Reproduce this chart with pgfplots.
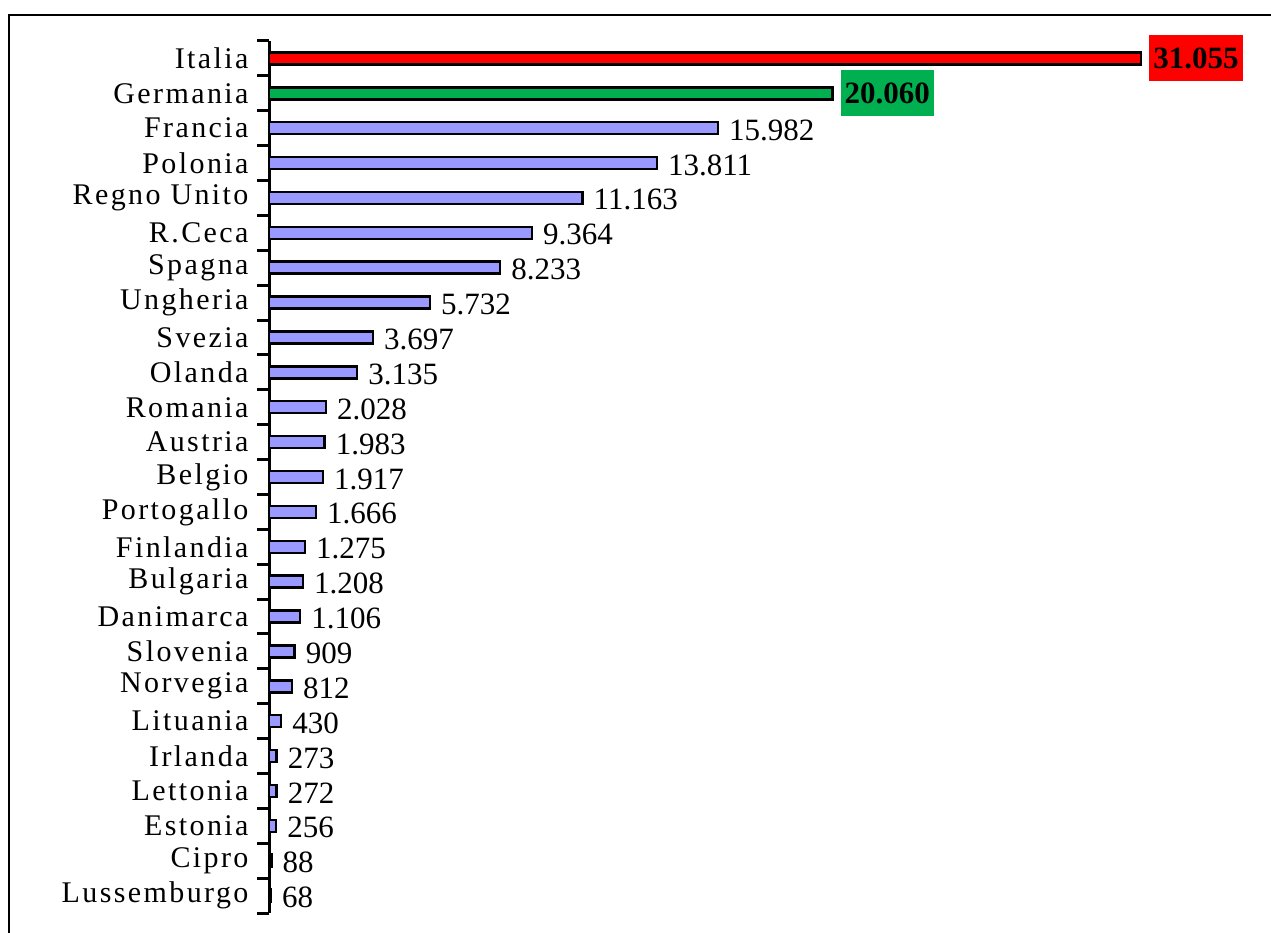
\documentclass[border=0pt]{standalone}
\usepackage{fontspec}
\setmainfont{Liberation Serif}
\newfontfamily\catfont[LetterSpace=8]{Liberation Serif}
\usepackage{pgfplots}
\pgfplotsset{compat=1.18}
\definecolor{barblue}{HTML}{9999FF}
\definecolor{bargreen}{HTML}{00B050}
\begin{document}
\begin{tikzpicture}
\useasboundingbox (0,0) rectangle (1271pt,932pt);
\draw[line width=2pt] (9pt,-5pt) -- (9pt,917.3pt) -- (1280pt,917.3pt);
\begin{axis}[
  at={(269pt,19pt)}, anchor=south west,
  scale only axis, width=872pt, height=872pt,
  xmin=0, xmax=31055, ymin=-0.5, ymax=24.5,
  xbar, bar width=12pt, bar shift=0pt,
  axis x line=none, axis y line*=left,
  axis line style={line width=3pt, -},
  ytick={0,...,24},
  yticklabels={Lussemburgo, Cipro, Estonia, Lettonia, Irlanda, Lituania, Norvegia, Slovenia, Danimarca, Bulgaria, Finlandia, Portogallo, Belgio, Austria, Romania, Olanda, Svezia, Ungheria, Spagna, R.Ceca, Regno Unito, Polonia, Francia, Germania, Italia},
  minor ytick={-0.5,0.5,...,24.5},
  tick align=outside,
  major tick length=0pt, minor tick length=11.5pt,
  minor tick style={line width=3pt, black},
  major tick style={draw=none},
  yticklabel style={font=\catfont\fontsize{30}{36}\selectfont, xshift=-17pt},
  clip=false,
  nodes near coords, point meta=x,
  /pgf/number format/fixed, /pgf/number format/1000 sep={.},
  /pgf/number format/assume math mode=true,
  every node near coord/.append style={font=\fontsize{31}{36}\selectfont, black},
]
\addplot[fill=barblue, draw=black, line width=2.5pt,
  nodes near coords style={yshift=-2pt, inner xsep=10pt}] coordinates {
  (68,0) (88,1) (256,2) (272,3) (273,4) (430,5) (812,6) (909,7)
  (1106,8) (1208,9) (1275,10) (1666,11) (1917,12) (1983,13) (2028,14)
  (3135,15) (3697,16) (5732,17) (8233,18) (9364,19) (11163,20)
  (13811,21) (15982,22)};
\addplot[fill=bargreen, draw=black, line width=2.5pt,
  nodes near coords style={fill=bargreen, font=\bfseries\fontsize{31}{36}\selectfont, xshift=7pt, inner xsep=4pt, inner ysep=0pt, minimum height=46pt}] coordinates {(20060,23)};
\addplot[fill=red, draw=black, line width=2.5pt,
  nodes near coords style={fill=red, font=\bfseries\fontsize{31}{36}\selectfont, xshift=7pt, inner xsep=4pt, inner ysep=0pt, minimum height=46pt}] coordinates {(31055,24)};
\end{axis}
\end{tikzpicture}
\end{document}
